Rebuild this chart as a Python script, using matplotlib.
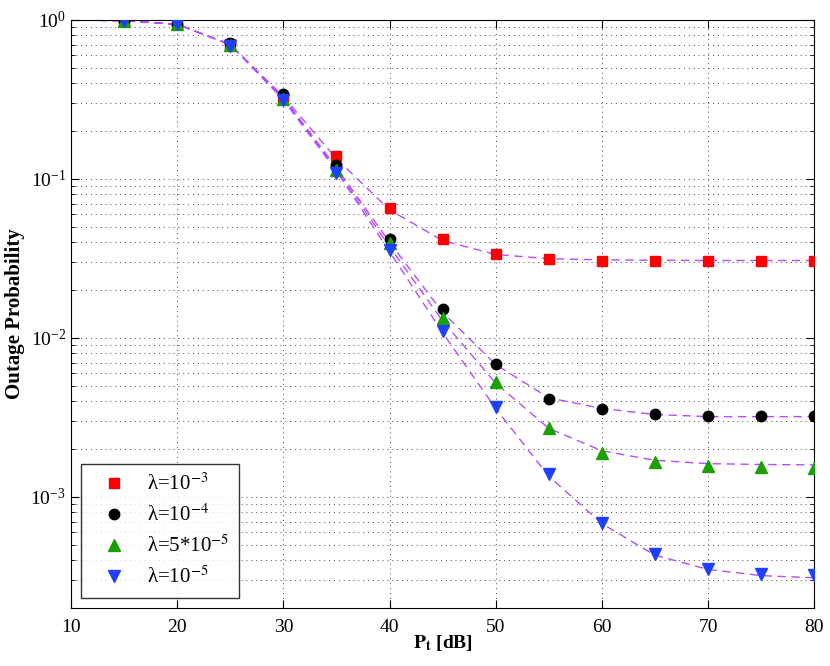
import matplotlib
matplotlib.use("Agg")
import matplotlib.pyplot as plt
from matplotlib.ticker import LogLocator, NullFormatter

plt.rcParams['font.family'] = ['Liberation Serif', 'DejaVu Serif']
plt.rcParams['mathtext.fontset'] = 'stix'

# simulation points (markers)
x_sim = [15, 20, 25, 30, 35, 40, 45, 50, 55, 60, 65, 70, 75, 80]
sim_1e3 = [0.99, 0.95, 0.71, 0.33, 0.139, 0.0657, 0.0417, 0.0337, 0.0315,
           0.0307, 0.0305, 0.0305, 0.0304, 0.0304]
sim_1e4 = [0.99, 0.95, 0.72, 0.34, 0.123, 0.0417, 0.0153, 0.00685, 0.00414,
           0.00358, 0.00333, 0.00325, 0.00322, 0.00322]
sim_5e5 = [0.99, 0.95, 0.70, 0.32, 0.114, 0.0393, 0.0134, 0.00532, 0.00273,
           0.00190, 0.00165, 0.00157, 0.00155, 0.00153]
sim_1e5 = [0.99, 0.95, 0.69, 0.316, 0.109, 0.0357, 0.0110, 0.00370, 0.00139,
           0.00069, 0.000436, 0.000354, 0.000329, 0.000321]

# analytical curves (dashed)
x_ana = [10, 15, 20, 25, 30, 35, 40, 45, 50, 55, 60, 65, 70, 75, 80]
ana_1e3 = [1.0, 0.99, 0.94, 0.70, 0.33, 0.134, 0.064, 0.041, 0.0335, 0.0315,
           0.0310, 0.0308, 0.0307, 0.0307, 0.0307]
ana_1e4 = [1.0, 0.99, 0.94, 0.70, 0.325, 0.118, 0.040, 0.0145, 0.0068, 0.0042,
           0.0036, 0.0033, 0.0032, 0.0032, 0.0032]
ana_5e5 = [1.0, 0.99, 0.94, 0.70, 0.32, 0.115, 0.0375, 0.0128, 0.0052, 0.0027,
           0.00195, 0.00170, 0.00162, 0.00160, 0.00159]
ana_1e5 = [1.0, 0.99, 0.94, 0.70, 0.315, 0.112, 0.035, 0.0108, 0.0036, 0.00135,
           0.00068, 0.00043, 0.00035, 0.00032, 0.00031]

labels = [r'λ=10$^{-3}$', r'λ=10$^{-4}$', r'λ=5*10$^{-5}$', r'λ=10$^{-5}$']
colors = ['#ff0000', '#000000', '#1aa000', '#1f40ff']
markers = ['s', 'o', '^', 'v']
sizes = [6.5, 7.5, 8.5, 8.5]
line_color = '#b44cff'

fig = plt.figure(figsize=(8.3, 6.66), dpi=100)
ax = fig.add_axes([0.0855, 0.087, 0.8955, 0.883])

for ana in [ana_1e3, ana_1e4, ana_5e5, ana_1e5]:
    ax.semilogy(x_ana, ana, '--', color=line_color, lw=1.0, dashes=(6, 4), zorder=2)

for sim, lab, c, m, s in zip([sim_1e3, sim_1e4, sim_5e5, sim_1e5],
                             labels, colors, markers, sizes):
    ax.semilogy(x_sim, sim, linestyle='none', marker=m, color=c, markersize=s,
                markeredgecolor=c, label=lab, zorder=3)

ax.set_xlim(10, 80)
ax.set_ylim(2e-4, 1)
ax.set_xticks(range(10, 81, 10))
ax.yaxis.set_major_locator(LogLocator(base=10, numticks=10))
ax.yaxis.set_minor_locator(LogLocator(base=10, subs=range(2, 10), numticks=50))
ax.yaxis.set_minor_formatter(NullFormatter())

ax.grid(True, which='major', linestyle=(0, (1, 4)), color='#444444', lw=0.7)
ax.grid(True, which='minor', axis='y', linestyle=(0, (1, 4)), color='#444444', lw=0.7)

ax.tick_params(which='both', direction='in', top=True, right=True, labelsize=14)
ax.tick_params(which='major', length=6)
ax.tick_params(which='minor', length=3)
ax.tick_params(axis='x', pad=8)

ax.set_xlabel(r'$\mathbf{P_t}$ [dB]', fontsize=14, fontweight='bold', labelpad=-2)
ax.set_ylabel('Outage Probability', fontsize=15, fontweight='bold', labelpad=4)

leg = ax.legend(loc='lower left', fontsize=15, frameon=True, fancybox=False,
                edgecolor='k', borderaxespad=0.5, handletextpad=0.5,
                labelspacing=0.45, borderpad=0.45, handlelength=2.2)
leg.get_frame().set_linewidth(1.0)

fig.savefig('out.png', dpi=100)
